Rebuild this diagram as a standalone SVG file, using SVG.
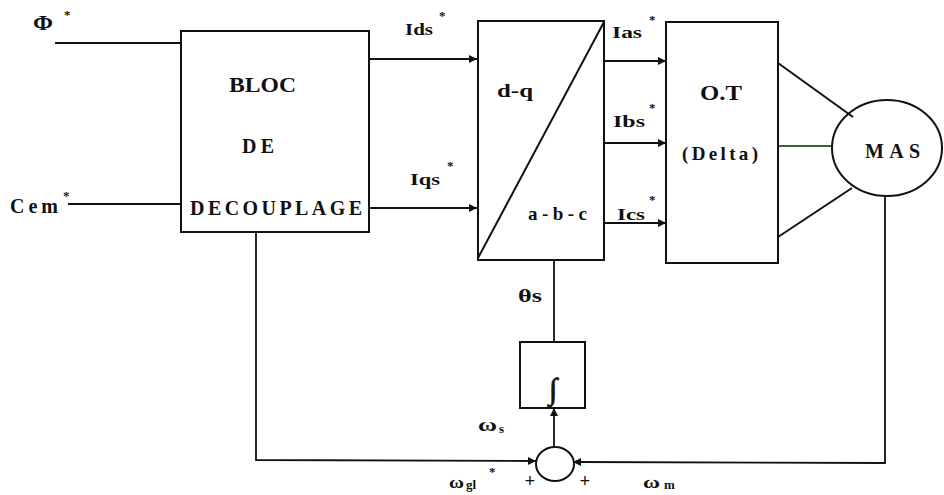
<svg xmlns="http://www.w3.org/2000/svg" width="944" height="495" viewBox="0 0 944 495">
<style>
.b{fill:none;stroke:#111;stroke-width:2}
.l{fill:none;stroke:#111;stroke-width:1.8}
.t{font-family:"Liberation Serif","Times New Roman",serif;font-weight:bold;fill:#111}
.s{font-family:"Liberation Serif","Times New Roman",serif;font-weight:bold;fill:#111;font-size:13px}
</style>
<defs>
<marker id="ar" viewBox="0 0 10 10" refX="10" refY="5" markerWidth="9" markerHeight="8" markerUnits="userSpaceOnUse" orient="auto">
<path d="M0,0 L10,5 L0,10 z" fill="#111"/>
</marker>
</defs>
<rect width="944" height="495" fill="#fff"/>

<g id="connectors">
<line class="l" x1="55" y1="43" x2="181" y2="43"/>
<line class="l" x1="68" y1="204" x2="181" y2="204"/>
<line class="l" x1="369" y1="59" x2="477" y2="59" marker-end="url(#ar)"/>
<line class="l" x1="369" y1="208" x2="477" y2="208" marker-end="url(#ar)" stroke="#1f3a22"/>
<line class="l" x1="604" y1="61" x2="666" y2="61" marker-end="url(#ar)"/>
<line class="l" x1="604" y1="143" x2="666" y2="143" marker-end="url(#ar)" stroke="#1f3a22"/>
<line class="l" x1="604" y1="223" x2="666" y2="223" marker-end="url(#ar)"/>
<line class="b" x1="778" y1="63" x2="853" y2="117" stroke-width="2.4"/>
<line x1="778" y1="146" x2="832" y2="146" stroke="#2f6b34" stroke-width="1.8"/>
<line class="b" x1="778" y1="237" x2="852" y2="188" stroke-width="2.4"/>
<line class="l" x1="554" y1="260" x2="554" y2="342"/>
<line class="l" x1="554" y1="447" x2="554" y2="408" marker-end="url(#ar)"/>
<polyline class="l" points="256,232 256,460 536,461" marker-end="url(#ar)"/>
<polyline class="l" points="885,196 885,463 573,462" marker-end="url(#ar)"/>
</g>

<g id="input-phi">
<text class="t" x="33" y="30" font-size="20" textLength="20" lengthAdjust="spacingAndGlyphs">Φ</text>
<text class="s" x="64" y="19">*</text>
</g>
<g id="input-cem">
<text class="t" x="10" y="213" font-size="20" textLength="48" lengthAdjust="spacing">Cem</text>
<text class="s" x="63" y="200">*</text>
</g>

<g id="bloc-decouplage">
<rect class="b" x="181" y="31" width="188" height="201"/>
<text class="t" x="229" y="92" font-size="20" textLength="67" lengthAdjust="spacingAndGlyphs">BLOC</text>
<text class="t" x="242" y="153" font-size="20" textLength="32" lengthAdjust="spacing">DE</text>
<text class="t" x="190" y="215" font-size="20" textLength="172" lengthAdjust="spacing">DECOUPLAGE</text>
</g>

<g id="labels-dq">
<text class="t" x="405" y="35" font-size="17" textLength="28" lengthAdjust="spacingAndGlyphs">Ids</text>
<text class="s" x="439" y="20">*</text>
<text class="t" x="410" y="185" font-size="17" textLength="30" lengthAdjust="spacingAndGlyphs">Iqs</text>
<text class="s" x="447" y="170">*</text>
</g>

<g id="transform-dq-abc">
<rect class="b" x="478" y="21" width="126" height="239"/>
<line class="b" x1="478" y1="258" x2="604" y2="22"/>
<text class="t" x="497" y="97" font-size="19" textLength="36" lengthAdjust="spacingAndGlyphs">d-q</text>
<text class="t" x="528" y="220" font-size="19" textLength="59" lengthAdjust="spacing">a-b-c</text>
</g>

<g id="labels-abc">
<text class="t" x="612" y="38" font-size="17" textLength="30" lengthAdjust="spacingAndGlyphs">Ias</text>
<text class="s" x="649" y="24">*</text>
<text class="t" x="613" y="127" font-size="17" textLength="32" lengthAdjust="spacingAndGlyphs">Ibs</text>
<text class="s" x="649" y="112">*</text>
<text class="t" x="617" y="220" font-size="17" textLength="28" lengthAdjust="spacingAndGlyphs">Ics</text>
<text class="s" x="649" y="204">*</text>
</g>

<g id="onduleur">
<rect class="b" x="666" y="22" width="112" height="241"/>
<text class="t" x="700" y="100" font-size="20" textLength="42" lengthAdjust="spacingAndGlyphs">O.T</text>
<text class="t" x="682" y="160" font-size="19" textLength="76" lengthAdjust="spacing">(Delta)</text>
</g>

<g id="mas">
<ellipse class="b" cx="887" cy="148" rx="55" ry="48"/>
<text class="t" x="865" y="158" font-size="20" textLength="55" lengthAdjust="spacing">MAS</text>
</g>

<g id="integrateur">
<rect class="b" x="520" y="342" width="65" height="66"/>
<text class="t" x="553" y="399" font-size="30" text-anchor="middle" stroke="#111" stroke-width="0.8">∫</text>
<text class="t" x="518" y="302" font-size="18" textLength="24" lengthAdjust="spacingAndGlyphs">θs</text>
</g>

<g id="sommateur">
<ellipse class="b" cx="555" cy="464" rx="19" ry="17"/>
<text class="t" x="478" y="431" font-size="19" textLength="19" lengthAdjust="spacingAndGlyphs">ω</text>
<text class="s" x="499" y="433" font-size="10">s</text>
<text class="t" x="449" y="488" font-size="17" textLength="15" lengthAdjust="spacingAndGlyphs">ω</text>
<text class="s" x="466" y="489" font-size="12">gl</text>
<text class="s" x="489" y="476">*</text>
<text class="t" x="530" y="487" font-size="19" text-anchor="middle">+</text>
<text class="t" x="585" y="487" font-size="19" text-anchor="middle">+</text>
<text class="t" x="643" y="488" font-size="17" textLength="17" lengthAdjust="spacingAndGlyphs">ω</text>
<text class="s" x="664" y="489" font-size="12">m</text>
</g>
</svg>
